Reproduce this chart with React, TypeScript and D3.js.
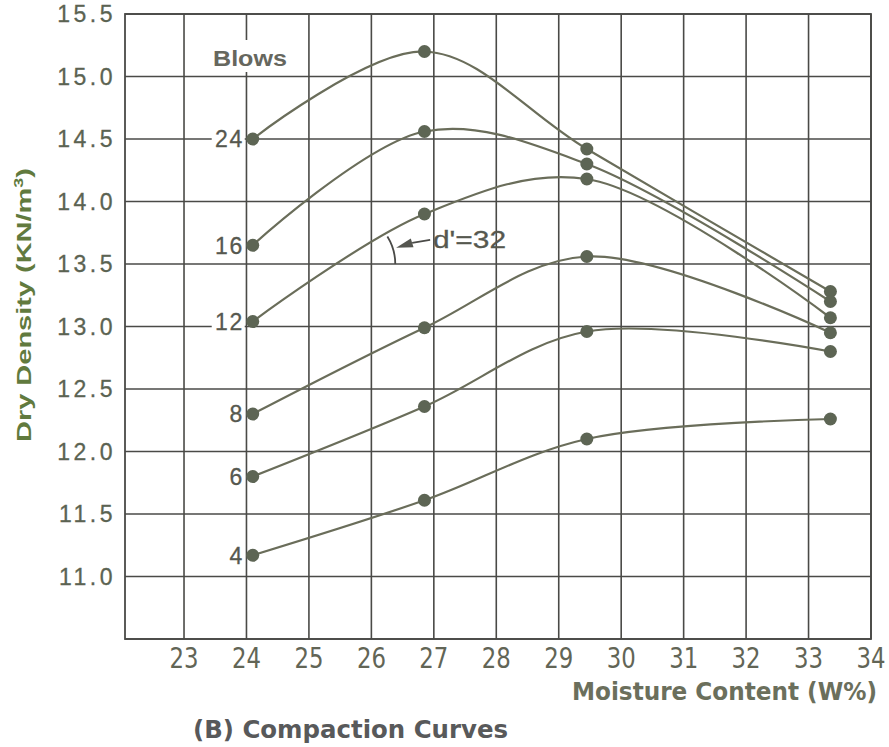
import React from 'react';
import * as d3 from 'd3';

// moisture content (W%) of the four test points
const moisture = [24.1, 26.85, 29.45, 33.35];
const blows = [24, 16, 12, 8, 6, 4];
// dry density (KN/m3) for each blow count
const density24 = [14.5, 15.2, 14.42, 13.28];
const density16 = [13.65, 14.56, 14.3, 13.2];
const density12 = [13.04, 13.9, 14.18, 13.07];
const density8 = [12.3, 12.99, 13.56, 12.95];
const density6 = [11.8, 12.36, 12.96, 12.8];
const density4 = [11.17, 11.61, 12.1, 12.26];
const densities = [density24, density16, density12, density8, density6, density4];

const xTicks = [23, 24, 25, 26, 27, 28, 29, 30, 31, 32, 33, 34];
const yTicks = [11.0, 11.5, 12.0, 12.5, 13.0, 13.5, 14.0, 14.5, 15.0, 15.5];
const yGrid = [10.5, ...yTicks];

// angle marker: where the 12-blow curve crosses 13.5, angle in degrees
const angleVertex = { x: 25.55, y: 13.5 };
const angleDeg = 32;

const W = 889, H = 747;
const left = 125, right = 871, top = 14, bottom = 639;

const gridColor = '#4a4a47';
const lineColor = '#6a6d5a';
const dotColor = '#5d6554';
const textColor = '#56584f';

export default function App() {
  const x = d3.scaleLinear().domain([22.055, 34]).range([left, right]);
  const y = d3.scaleLinear().domain([10.5, 15.5]).range([bottom, top]);

  const line = d3.line<number>()
    .x((_, i) => x(moisture[i]))
    .y((d) => y(d))
    .curve(d3.curveCatmullRom.alpha(0.5));

  // angle annotation
  const vx = x(angleVertex.x), vy = y(angleVertex.y);
  const r = 52;
  const a1 = -angleDeg * Math.PI / 180;
  const arc = d3.path();
  arc.arc(vx, vy, r, 0, a1, true);
  const mid = a1 / 2;
  const tipX = vx + (r + 3) * Math.cos(mid);
  const tipY = vy + (r + 3) * Math.sin(mid) - 1;
  const baseX = tipX + 16, baseY = tipY - 5;
  const headAng = Math.atan2(tipY - baseY, tipX - baseX);
  const hw = 4.5;
  const head = [
    [tipX, tipY],
    [baseX - hw * Math.sin(headAng), baseY + hw * Math.cos(headAng)],
    [baseX + hw * Math.sin(headAng), baseY - hw * Math.cos(headAng)],
  ];

  const sans = '"Liberation Sans", Arial, Helvetica, sans-serif';
  const narrow = '"Liberation Sans Narrow", "DejaVu Sans Condensed", "Liberation Sans", sans-serif';

  return (
    <svg width={W} height={H} style={{ position: 'absolute', left: 0, top: 0, background: '#fff' }}>
      <rect width={W} height={H} fill="#fff" />
      {/* grid */}
      {yGrid.map((v) => (
        <line key={'h' + v} x1={left} x2={right} y1={y(v)} y2={y(v)} stroke={gridColor} strokeWidth={1.6} />
      ))}
      {xTicks.map((v) => (
        <line key={'v' + v} x1={x(v)} x2={x(v)} y1={top} y2={bottom} stroke={gridColor} strokeWidth={1.6} />
      ))}
      <rect x={left} y={top} width={right - left} height={bottom - top} fill="none" stroke={gridColor} strokeWidth={1.8} />

      {/* y tick labels */}
      {yTicks.map((v) => (
        <text key={'yl' + v} x={116} y={y(v)} dy="0.36em" textAnchor="end" fontFamily={sans}
          fontSize={23} letterSpacing={3.5} fill="#5b6352" stroke="#5b6352" strokeWidth={0.3}>{v.toFixed(1)}</text>
      ))}
      {/* x tick labels */}
      {xTicks.map((v) => (
        <text key={'xl' + v} x={x(v)} y={668} textAnchor="middle" fontFamily={narrow}
          fontSize={28} textLength={29} lengthAdjust="spacingAndGlyphs" fill="#626556">{v}</text>
      ))}

      {/* curves */}
      {densities.map((d, i) => (
        <path key={'c' + i} d={line(d) || ''} fill="none" stroke={lineColor} strokeWidth={2.2} />
      ))}
      {densities.map((d, i) => d.map((v, j) => (
        <circle key={'p' + i + '-' + j} cx={x(moisture[j])} cy={y(v)} r={6.5} fill={dotColor} />
      )))}

      {/* blow labels */}
      {densities.map((d, i) => {
        const lx = x(moisture[0]) - 9;
        const ly = y(d[0]);
        const s = String(blows[i]);
        const w = s.length * 15;
        return (
          <g key={'b' + i}>
            <rect x={lx - w - 2} y={ly - 11} width={w + 3} height={22} fill="#fff" />
            <text x={lx} y={ly} dy="0.36em" textAnchor="end" fontFamily={sans} fontSize={23}
              letterSpacing={1.5} fill={textColor} stroke={textColor} strokeWidth={0.3}>{s}</text>
          </g>
        );
      })}
      <rect x={209} y={40} width={82} height={32} fill="#fff" />
      <text x={213} y={66} fontFamily={sans} fontSize={22} fontWeight="bold" textLength={74}
        lengthAdjust="spacingAndGlyphs" fill="#66675e">Blows</text>

      {/* angle annotation */}
      <path d={arc.toString()} fill="none" stroke={gridColor} strokeWidth={1.8} />
      <line x1={baseX} y1={baseY} x2={baseX + 18} y2={baseY - 3} stroke={gridColor} strokeWidth={1.6} />
      <polygon points={head.map((p) => p.join(',')).join(' ')} fill="#555650" />
      <text x={433} y={248} fontFamily={sans} fontSize={23} textLength={73} lengthAdjust="spacingAndGlyphs"
        fill={textColor} stroke={textColor} strokeWidth={0.3}>d'=32</text>

      {/* axis titles */}
      <text transform={`translate(31,305) rotate(-90)`} textAnchor="middle" fontFamily={sans} fontSize={21}
        fontWeight="bold" textLength={274} lengthAdjust="spacingAndGlyphs" fill="#617a3e">
        Dry Density (KN/m<tspan dy={-8} fontSize={13}>3</tspan><tspan dy={8}>)</tspan>
      </text>
      <text x={572} y={700} fontFamily={narrow} fontSize={24} fontWeight="bold" textLength={305}
        lengthAdjust="spacingAndGlyphs" fill="#6b6f5c">Moisture Content (W%)</text>
      <text x={193} y={738} fontFamily={narrow} fontSize={24} fontWeight="bold" textLength={315}
        lengthAdjust="spacingAndGlyphs" fill="#58595a">(B) Compaction Curves</text>
    </svg>
  );
}
